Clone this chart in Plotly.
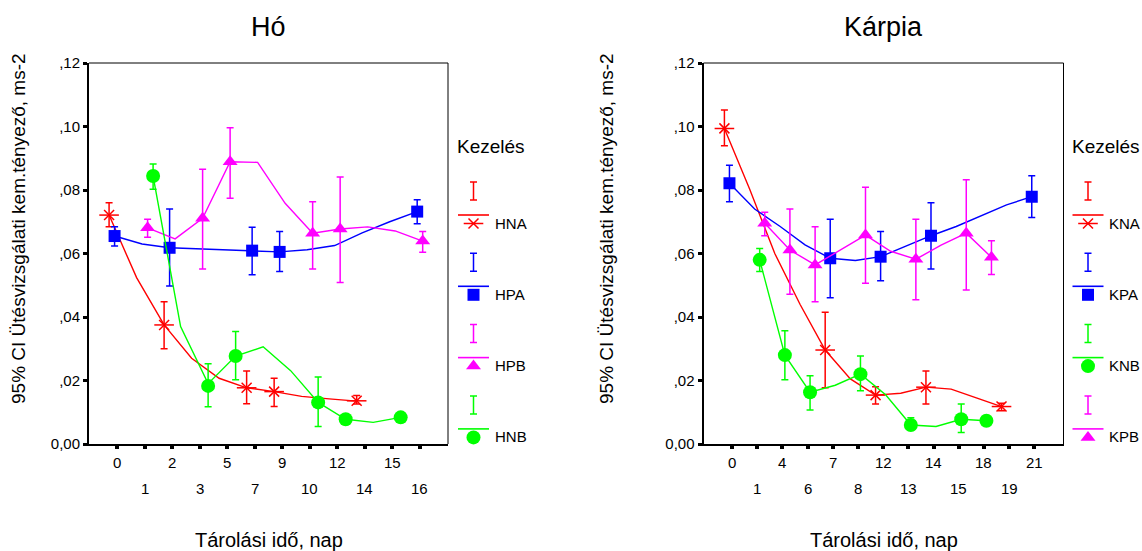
import plotly.graph_objects as go

W, H = 1142, 551
OX, OY = 0, 0  # page offset of the figure div (body margin removed below)

# ---------------- data ----------------
ho_days = ["0", "1", "2", "3", "5", "7", "9", "10", "12", "14", "15", "16"]
karpia_days = ["0", "1", "4", "6", "7", "8", "12", "13", "14", "15", "18", "19", "21"]

y_tick_vals = [0.0, 0.02, 0.04, 0.06, 0.08, 0.10, 0.12]
y_tick_text = ["0,00", ",02", ",04", ",06", ",08", ",10", ",12"]

# Hó
HNA_days = ["0", "2", "7", "9", "14"]
HNA_mean = [0.0721, 0.0375, 0.0177, 0.0165, 0.0136]
HNA_lo = [0.0684, 0.0300, 0.0127, 0.0118, 0.0126]
HNA_hi = [0.0760, 0.0448, 0.0230, 0.0207, 0.0153]
HNA_fit_days = ["0", "1", "2", "3", "5", "7", "9", "10", "12", "14"]
HNA_fit = [0.0721, 0.0524, 0.0375, 0.0270, 0.0207, 0.0177, 0.0165, 0.0150, 0.0142, 0.0135]

HPA_days = ["0", "2", "7", "9", "16"]
HPA_mean = [0.0655, 0.0618, 0.0609, 0.0605, 0.0732]
HPA_lo = [0.0624, 0.0498, 0.0533, 0.0543, 0.0694]
HPA_hi = [0.0684, 0.0740, 0.0683, 0.0669, 0.0769]
HPA_fit_days = ["0", "1", "2", "3", "5", "7", "9", "10", "12", "14", "15", "16"]
HPA_fit = [0.0655, 0.0630, 0.0618, 0.0615, 0.0613, 0.0609, 0.0605, 0.0612, 0.0625, 0.0665, 0.0700, 0.0732]

HPB_days = ["1", "3", "5", "10", "12", "16"]
HPB_mean = [0.0681, 0.0711, 0.0889, 0.0664, 0.0677, 0.0639]
HPB_lo = [0.0651, 0.0551, 0.0774, 0.0551, 0.0509, 0.0604]
HPB_hi = [0.0708, 0.0865, 0.0996, 0.0763, 0.0841, 0.0669]
HPB_fit_days = ["1", "2", "3", "5", "7", "9", "10", "12", "14", "15", "16"]
HPB_fit = [0.0681, 0.0646, 0.0711, 0.0889, 0.0887, 0.0758, 0.0664, 0.0677, 0.0684, 0.0671, 0.0639]

HNB_days = ["1", "3", "5", "10", "12", "15"]
HNB_mean = [0.0844, 0.0183, 0.0277, 0.0131, 0.0078, 0.0084]
HNB_lo = [0.0802, 0.0117, 0.0202, 0.0055, 0.0078, 0.0084]
HNB_hi = [0.0882, 0.0253, 0.0354, 0.0211, 0.0078, 0.0084]
HNB_fit_days = ["1", "2", "3", "5", "7", "9", "10", "12", "14", "15"]
HNB_fit = [0.0844, 0.0370, 0.0190, 0.0277, 0.0306, 0.0231, 0.0131, 0.0078, 0.0068, 0.0084]

# Kárpia
KNA_days = ["0", "7", "12", "14", "19"]
KNA_mean = [0.0994, 0.0296, 0.0154, 0.0179, 0.0118]
KNA_lo = [0.0939, 0.0177, 0.0126, 0.0126, 0.0105]
KNA_hi = [0.1052, 0.0415, 0.0180, 0.0230, 0.0128]
KNA_fit_days = ["0", "1", "4", "6", "7", "8", "12", "13", "14", "15", "18", "19"]
KNA_fit = [0.0994, 0.0803, 0.0600, 0.0440, 0.0296, 0.0205, 0.0154, 0.0160, 0.0179, 0.0173, 0.0145, 0.0118]

KPA_days = ["0", "7", "12", "14", "21"]
KPA_mean = [0.0821, 0.0585, 0.0590, 0.0656, 0.0779]
KPA_lo = [0.0763, 0.0461, 0.0514, 0.0551, 0.0713]
KPA_hi = [0.0878, 0.0708, 0.0669, 0.0760, 0.0845]
KPA_fit_days = ["0", "1", "4", "6", "7", "8", "12", "13", "14", "15", "18", "19", "21"]
KPA_fit = [0.0821, 0.0740, 0.0686, 0.0627, 0.0585, 0.0578, 0.0590, 0.0623, 0.0656, 0.0685, 0.0718, 0.0753, 0.0779]

KNB_days = ["1", "4", "6", "8", "13", "15", "18"]
KNB_mean = [0.0580, 0.0280, 0.0163, 0.0220, 0.0060, 0.0078, 0.0073]
KNB_lo = [0.0543, 0.0202, 0.0107, 0.0168, 0.0044, 0.0036, 0.0073]
KNB_hi = [0.0616, 0.0357, 0.0215, 0.0277, 0.0083, 0.0126, 0.0073]
KNB_fit_days = ["1", "4", "6", "7", "8", "12", "13", "14", "15", "18"]
KNB_fit = [0.0580, 0.0280, 0.0163, 0.0185, 0.0220, 0.0155, 0.0060, 0.0055, 0.0078, 0.0073]

KPB_days = ["1", "4", "6", "8", "13", "15", "18"]
KPB_mean = [0.0695, 0.0611, 0.0564, 0.0658, 0.0582, 0.0664, 0.0588]
KPB_lo = [0.0656, 0.0472, 0.0448, 0.0506, 0.0454, 0.0485, 0.0534]
KPB_hi = [0.0730, 0.0740, 0.0684, 0.0809, 0.0708, 0.0832, 0.0640]
KPB_fit_days = ["1", "4", "6", "7", "8", "12", "13", "14", "15", "18"]
KPB_fit = [0.0695, 0.0611, 0.0564, 0.0610, 0.0658, 0.0607, 0.0582, 0.0626, 0.0664, 0.0588]

# ---------------- styles ----------------
RED, BLUE, MAG, GRN = "#FF0000", "#0000FF", "#FF00FF", "#00FF00"
FONT = "Arial, Liberation Sans, sans-serif"
NARROW = "Liberation Sans Narrow, Arial Narrow, Arial, Liberation Sans, sans-serif"

ho = [
    ("HNA", RED, "star", HNA_days, HNA_mean, HNA_lo, HNA_hi, HNA_fit_days, HNA_fit),
    ("HPA", BLUE, "square", HPA_days, HPA_mean, HPA_lo, HPA_hi, HPA_fit_days, HPA_fit),
    ("HPB", MAG, "triangle-up", HPB_days, HPB_mean, HPB_lo, HPB_hi, HPB_fit_days, HPB_fit),
    ("HNB", GRN, "circle", HNB_days, HNB_mean, HNB_lo, HNB_hi, HNB_fit_days, HNB_fit),
]
karpia = [
    ("KNA", RED, "star", KNA_days, KNA_mean, KNA_lo, KNA_hi, KNA_fit_days, KNA_fit),
    ("KPA", BLUE, "square", KPA_days, KPA_mean, KPA_lo, KPA_hi, KPA_fit_days, KPA_fit),
    ("KNB", GRN, "circle", KNB_days, KNB_mean, KNB_lo, KNB_hi, KNB_fit_days, KNB_fit),
    ("KPB", MAG, "triangle-up", KPB_days, KPB_mean, KPB_lo, KPB_hi, KPB_fit_days, KPB_fit),
]
dodge = [-0.3, -0.1, 0.1, 0.3]
marker_size = {"square": 12, "circle": 14, "triangle-up": 13}


def px_x(p):
    return (p - OX) / W


def px_y(p):
    return 1 - (p - OY) / H


fig = go.Figure()


def add_marker(x, y, color, sym, xa, ya):
    if sym == "star":
        fig.add_trace(go.Scatter(x=x, y=y, mode="markers", xaxis=xa, yaxis=ya, showlegend=False,
                                 marker=dict(symbol="x-thin-open", size=10, color=color,
                                             line=dict(color=color, width=1.5))))
        fig.add_trace(go.Scatter(x=x, y=y, mode="markers", xaxis=xa, yaxis=ya, showlegend=False,
                                 marker=dict(symbol="line-ew-open", size=14, color=color,
                                             line=dict(color=color, width=1.5))))
    else:
        fig.add_trace(go.Scatter(x=x, y=y, mode="markers", xaxis=xa, yaxis=ya, showlegend=False,
                                 marker=dict(symbol=sym, size=marker_size[sym], color=color,
                                             line=dict(width=0))))


def draw_panel(series, cats, xa, ya):
    idx = {c: i for i, c in enumerate(cats)}
    for k, (name, color, sym, days, mean, lo, hi, fdays, fit) in enumerate(series):
        off = dodge[k]
        fx = [idx[d] + off for d in fdays]
        fig.add_trace(go.Scatter(x=fx, y=fit, mode="lines", xaxis=xa, yaxis=ya, showlegend=False,
                                 line=dict(color=color, width=1.4)))
        mx = [idx[d] + off for d in days]
        fig.add_trace(go.Scatter(
            x=mx, y=mean, mode="markers", xaxis=xa, yaxis=ya, showlegend=False,
            marker=dict(size=1, color="rgba(0,0,0,0)"),
            error_y=dict(type="data", symmetric=False,
                         array=[h - m for h, m in zip(hi, mean)],
                         arrayminus=[m - l for m, l in zip(mean, lo)],
                         color=color, thickness=1.5, width=3.5)))
        add_marker(mx, mean, color, sym, xa, ya)


draw_panel(ho, ho_days, "x", "y")
draw_panel(karpia, karpia_days, "x2", "y2")

# ---------------- layout ----------------
L_dom = [px_x(89), px_x(448)]
R_dom = [px_x(703.5), px_x(1063.5)]
Y_dom = [px_y(444), px_y(63)]

xcommon = dict(showline=True, linewidth=2, linecolor="black", ticks="outside", ticklen=3,
               tickwidth=4, tickcolor="black", showticklabels=False, showgrid=False,
               zeroline=False, mirror=False, fixedrange=True)
ycommon = dict(range=[0, 0.12], tickvals=y_tick_vals, ticktext=y_tick_text,
               showline=True, linewidth=2, linecolor="black", ticks="outside", ticklen=4,
               tickwidth=3, tickcolor="black", showgrid=False, zeroline=False,
               tickfont=dict(family=FONT, size=15, color="black"), fixedrange=True)

fig.update_layout(
    width=W, height=H, margin=dict(l=0, r=0, t=0, b=0, pad=0, autoexpand=False),
    paper_bgcolor="white", plot_bgcolor="rgba(0,0,0,0)", showlegend=False,
    hovermode=False,
    xaxis=dict(domain=L_dom, range=[-1.03, 12.02], tickvals=list(range(len(ho_days))),
               anchor="y", **xcommon),
    yaxis=dict(domain=Y_dom, anchor="x", **ycommon),
    xaxis2=dict(domain=R_dom, range=[-1.13, 13.16], tickvals=list(range(len(karpia_days))),
                anchor="y2", **xcommon),
    yaxis2=dict(domain=Y_dom, anchor="x2", **ycommon),
    xaxis3=dict(domain=[0, 1], range=[OX, W + OX], visible=False, anchor="y3", fixedrange=True),
    yaxis3=dict(domain=[0, 1], range=[H + OY, OY], visible=False, anchor="x3", fixedrange=True),
)

shapes = []
for dom in (L_dom, R_dom):
    shapes.append(dict(type="line", xref="paper", yref="paper", x0=dom[0], x1=dom[1],
                       y0=Y_dom[1], y1=Y_dom[1], line=dict(color="black", width=1)))
    shapes.append(dict(type="line", xref="paper", yref="paper", x0=dom[1], x1=dom[1],
                       y0=Y_dom[0], y1=Y_dom[1], line=dict(color="black", width=1)))
fig.update_layout(shapes=shapes)

ann = []
# staggered category labels
row_y = [px_y(462), px_y(488.5)]
for cats, xa in ((ho_days, "x"), (karpia_days, "x2")):
    for i, c in enumerate(cats):
        ann.append(dict(text=c, x=i, xref=xa, y=row_y[i % 2], yref="paper", showarrow=False,
                        xanchor="center", yanchor="middle",
                        font=dict(family=FONT, size=15, color="black")))

# titles
for txt, dom, ytitle_x in (("Hó", L_dom, 18), ("Kárpia", R_dom, 606)):
    cx = (dom[0] + dom[1]) / 2
    ann.append(dict(text=txt, x=cx, xref="paper", y=px_y(27), yref="paper", showarrow=False,
                    xanchor="center", yanchor="middle",
                    font=dict(family=NARROW, size=27, color="black")))
    ann.append(dict(text="Tárolási idő, nap", x=cx, xref="paper", y=px_y(540), yref="paper",
                    showarrow=False, xanchor="center", yanchor="middle",
                    font=dict(family=NARROW, size=20, color="black")))
    ann.append(dict(text="95% CI Ütésvizsgálati kem.tényező, ms-2", x=px_x(ytitle_x), xref="paper",
                    y=px_y(229), yref="paper", showarrow=False, textangle=-90,
                    xanchor="center", yanchor="middle",
                    font=dict(family=FONT, size=19, color="black")))

# legends (drawn on a hidden full-figure pixel axis)
for series, cx, head_x, label_x in ((ho, 473.5, 491, 493), (karpia, 1088, 1106, 1107)):
    ann.append(dict(text="Kezelés", x=head_x, xref="x3", y=146, yref="y3", showarrow=False,
                    xanchor="center", yanchor="middle",
                    font=dict(family=FONT, size=19, color="black")))
    for k, (name, color, sym, *_rest) in enumerate(series):
        base = 71.3 * k
        fig.add_trace(go.Scatter(x=[cx], y=[191 + base], mode="markers", xaxis="x3", yaxis="y3",
                                 showlegend=False, marker=dict(size=1, color="rgba(0,0,0,0)"),
                                 error_y=dict(type="data", array=[9], color=color,
                                              thickness=1.5, width=3.5)))
        fig.add_trace(go.Scatter(x=[cx - 15.5, cx + 15.5], y=[215 + base, 215 + base], mode="lines",
                                 xaxis="x3", yaxis="y3", showlegend=False,
                                 line=dict(color=color, width=1.6)))
        add_marker([cx], [223.5 + base], color, sym, "x3", "y3")
        ann.append(dict(text=name, x=label_x, xref="x3", y=223 + base, yref="y3", showarrow=False,
                        xanchor="left", yanchor="middle",
                        font=dict(family=FONT, size=15, color="black")))

fig.update_layout(annotations=ann)
fig.write_html(
    "out.html",
    config={"displayModeBar": False, "staticPlot": True},
    post_script="document.body.style.margin='0';document.body.style.overflow='hidden';",
)
